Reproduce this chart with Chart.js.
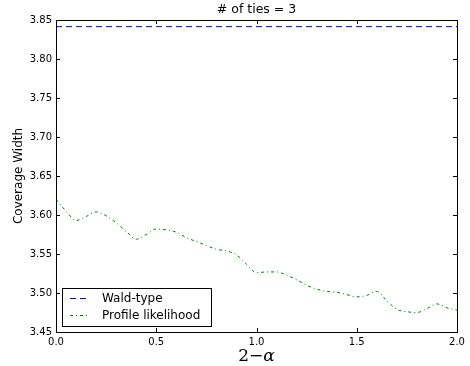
<!DOCTYPE html>
<html>
<head>
<meta charset="utf-8">
<script src="https://cdn.jsdelivr.net/npm/chart.js@4"></script>
<style>
  html, body { margin: 0; padding: 0; background: #fff; }
  #wrap { width: 470px; height: 366px; }
</style>
</head>
<body>
<div id="wrap"><canvas id="c" width="470" height="366"></canvas></div>
<script>
// values
const alphaValues = [0.00, 0.05, 0.10, 0.15, 0.20, 0.25, 0.30, 0.35, 0.40, 0.45,
  0.50, 0.55, 0.60, 0.65, 0.70, 0.75, 0.80, 0.85, 0.90, 0.95,
  1.00, 1.05, 1.10, 1.15, 1.20, 1.25, 1.30, 1.35, 1.40, 1.45,
  1.50, 1.55, 1.60, 1.65, 1.70, 1.75, 1.80, 1.85, 1.90, 1.95, 2.00];
const profileWidth = [3.620, 3.605, 3.593, 3.598, 3.604, 3.599, 3.590, 3.579, 3.569, 3.575,
  3.582, 3.581, 3.578, 3.571, 3.566, 3.561, 3.556, 3.554, 3.549, 3.537,
  3.526, 3.527, 3.527, 3.523, 3.517, 3.510, 3.505, 3.502, 3.501, 3.498,
  3.495, 3.497, 3.502, 3.490, 3.479, 3.476, 3.475, 3.480, 3.486, 3.481, 3.478];
const waldAlpha = [0, 2];
const waldWidth = [3.8415, 3.8415];
const seriesNames = ["Wald-type", "Profile likelihood"];
const yTicks = [3.45, 3.50, 3.55, 3.60, 3.65, 3.70, 3.75, 3.80, 3.85];
const xTicks = [0.0, 0.5, 1.0, 1.5, 2.0];

const FONT = "'DejaVu Sans', sans-serif";
const SERIF = "'DejaVu Serif', serif";

function toPoints(xs, ys) {
  return xs.map((x, i) => ({x: x, y: ys[i]}));
}

// matplotlib style frame: box, inward ticks, titles, legend inside axes
const framePlugin = {
  id: "frame",
  afterDatasetsDraw(chart) {
    const {ctx, chartArea: a, scales} = chart;
    ctx.save();
    ctx.strokeStyle = "#000";
    ctx.lineWidth = 1;
    ctx.setLineDash([]);
    ctx.strokeRect(a.left + 0.5, a.top + 0.5, a.right - a.left, a.bottom - a.top);
    ctx.beginPath();
    for (const v of xTicks) {
      const px = Math.round(scales.x.getPixelForValue(v)) + 0.5;
      ctx.moveTo(px, a.bottom); ctx.lineTo(px, a.bottom - 4);
      ctx.moveTo(px, a.top); ctx.lineTo(px, a.top + 4);
    }
    for (const v of yTicks) {
      const py = Math.round(scales.y.getPixelForValue(v)) + 0.5;
      ctx.moveTo(a.left, py); ctx.lineTo(a.left + 4, py);
      ctx.moveTo(a.right, py); ctx.lineTo(a.right - 4, py);
    }
    ctx.stroke();

    // title
    ctx.fillStyle = "#000";
    ctx.font = "12.5px " + FONT;
    ctx.textAlign = "center";
    ctx.textBaseline = "middle";
    ctx.fillText("# of ties = 3", (a.left + a.right) / 2, 10);

    // x axis label, math style: upright "2−", italic alpha
    ctx.textAlign = "left";
    ctx.textBaseline = "alphabetic";
    ctx.font = "17px " + SERIF;
    const head = "2\u2212";
    const w1 = ctx.measureText(head).width;
    ctx.font = "italic 17px " + SERIF;
    const w2 = ctx.measureText("\u03b1").width;
    const x0 = (a.left + a.right) / 2 - (w1 + w2) / 2;
    ctx.font = "17px " + SERIF;
    ctx.fillText(head, x0, 361);
    ctx.font = "italic 17px " + SERIF;
    ctx.fillText("\u03b1", x0 + w1, 361);

    // legend
    ctx.textBaseline = "middle";
    const lx = 62, ly = 288, lw = 149, lh = 38;
    ctx.fillStyle = "#fff";
    ctx.fillRect(lx, ly, lw, lh);
    ctx.strokeStyle = "#000";
    ctx.strokeRect(lx + 0.5, ly + 0.5, lw, lh);
    const rows = [298.5, 315.5];
    ctx.font = "12px " + FONT;
    chart.data.datasets.forEach((ds, i) => {
      ctx.strokeStyle = ds.borderColor;
      ctx.lineWidth = ds.borderWidth;
      ctx.setLineDash(ds.borderDash);
      ctx.beginPath();
      ctx.moveTo(70, rows[i]);
      ctx.lineTo(88, rows[i]);
      ctx.stroke();
      ctx.setLineDash([]);
      ctx.fillStyle = "#000";
      ctx.fillText(ds.label, 102, rows[i]);
    });
    ctx.restore();
  }
};

new Chart(document.getElementById("c"), {
  type: "line",
  data: {
    datasets: [{
      label: seriesNames[0],
      data: toPoints(waldAlpha, waldWidth),
      borderColor: "#0000ff",
      borderWidth: 1,
      borderDash: [6, 4],
      pointRadius: 0,
      fill: false
    }, {
      label: seriesNames[1],
      data: toPoints(alphaValues, profileWidth),
      borderColor: "#008000",
      borderWidth: 1,
      borderDash: [3, 3, 1, 3],
      pointRadius: 0,
      cubicInterpolationMode: "monotone",
      fill: false
    }]
  },
  options: {
    responsive: false,
    animation: false,
    layout: {padding: {top: 20, right: 13, left: 0, bottom: 0}},
    plugins: {legend: {display: false}, title: {display: false}, tooltip: {enabled: false}},
    scales: {
      x: {
        type: "linear",
        min: 0, max: 2,
        afterFit(scale) { scale.height = 34; },
        afterBuildTicks(scale) { scale.ticks = xTicks.map(v => ({value: v})); },
        grid: {display: false, drawTicks: false},
        border: {display: false},
        ticks: {
          padding: 4,
          color: "#000",
          font: {family: FONT, size: 10},
          maxRotation: 0,
          callback: v => v.toFixed(1)
        },
        title: {display: false}
      },
      y: {
        type: "linear",
        min: 3.45, max: 3.85,
        afterFit(scale) { scale.width = 56; },
        afterBuildTicks(scale) { scale.ticks = yTicks.map(v => ({value: v})); },
        grid: {display: false, drawTicks: false},
        border: {display: false},
        ticks: {
          padding: 4,
          color: "#000",
          font: {family: FONT, size: 10},
          callback: v => v.toFixed(2)
        },
        title: {
          display: true,
          text: "Coverage Width",
          color: "#000",
          font: {family: FONT, size: 12},
          padding: {top: 12, bottom: 0}
        }
      }
    }
  },
  plugins: [framePlugin]
});
</script>
</body>
</html>
